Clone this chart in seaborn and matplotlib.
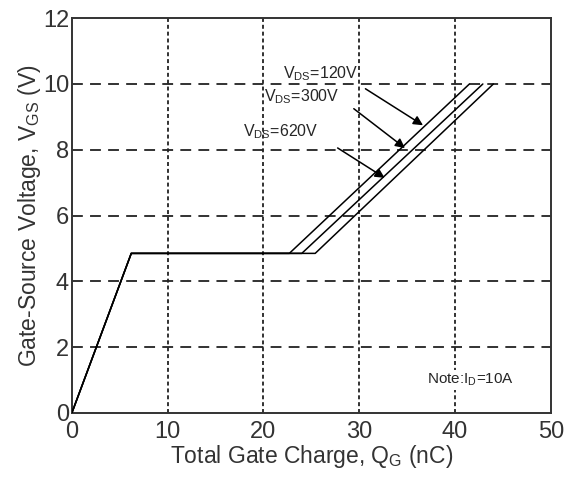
import pandas as pd
import seaborn as sns
import matplotlib
matplotlib.use('Agg')
import matplotlib.pyplot as plt

sns.set_style("white")
plt.rcParams['font.family'] = ['Liberation Sans', 'DejaVu Sans']

# gate charge curves, one per drain-source voltage
vds = ['120V', '300V', '620V']
qg_120 = [0, 6.2, 22.7, 41.5]
vgs_120 = [0, 4.85, 4.85, 10]
qg_300 = [0, 6.2, 24.0, 42.9]
vgs_300 = [0, 4.85, 4.85, 10]
qg_620 = [0, 6.2, 25.4, 44.0]
vgs_620 = [0, 4.85, 4.85, 10]

xticks = [0, 10, 20, 30, 40, 50]
yticks = [0, 2, 4, 6, 8, 10, 12]

frames = []
for name, q, v in zip(vds, (qg_120, qg_300, qg_620), (vgs_120, vgs_300, vgs_620)):
    frames.append(pd.DataFrame({'Qg': q, 'Vgs': v, 'VDS': name}))
data = pd.concat(frames)

fig = plt.figure(figsize=(5.75, 4.79), dpi=100)
ax = fig.add_axes([0.125, 0.138, 0.833, 0.824])

# grid
for y in yticks[1:-1]:
    ax.axhline(y, color='#222222', lw=1.3, ls=(0, (6, 4)), zorder=1)
for x in xticks[1:-1]:
    ax.axvline(x, color='#222222', lw=1.3, ls=(0, (2.2, 1.6)), zorder=1)

sns.lineplot(data=data, x='Qg', y='Vgs', hue='VDS', units='VDS', estimator=None,
             sort=False, palette=['black'] * 3, lw=1.1, legend=False, ax=ax, zorder=3)

ax.set_xlim(0, 50)
ax.set_ylim(0, 12)
ax.set_xticks(xticks)
ax.set_yticks(yticks)
ax.tick_params(length=0, labelsize=17, colors='#333333')
ax.tick_params(axis='x', pad=6)
ax.tick_params(axis='y', pad=2)
for s in ax.spines.values():
    s.set_color('#333333')
    s.set_linewidth(1.4)

ax.set_xlabel('Total Gate Charge, Q$_\\mathregular{G}$ (nC)', fontsize=16.5,
              labelpad=0, color='#333333')
ax.set_ylabel('Gate-Source Voltage, V$_\\mathregular{GS}$ (V)', fontsize=16.5,
              labelpad=0, color='#333333')

# annotations
arrow = dict(arrowstyle='-|>', color='black', lw=1.1, mutation_scale=14)
ax.annotate('', xy=(36.9, 8.7), xytext=(30.4, 9.9), arrowprops=arrow)
ax.annotate('', xy=(35.0, 8.0), xytext=(29.2, 9.3), arrowprops=arrow)
ax.annotate('', xy=(32.9, 7.1), xytext=(27.5, 8.1), arrowprops=arrow)
ax.text(22.0, 10.3, 'V$_\\mathregular{DS}$=120V', fontsize=11.5, va='center')
ax.text(20.1, 9.6, 'V$_\\mathregular{DS}$=300V', fontsize=11.5, va='center')
ax.text(17.9, 8.55, 'V$_\\mathregular{DS}$=620V', fontsize=11.5, va='center')
ax.text(41.6, 1.0, 'Note:I$_\\mathregular{D}$=10A', fontsize=11, ha='center', va='center',
        bbox=dict(facecolor='white', edgecolor='none', pad=1), zorder=4)

fig.savefig('out.png', dpi=100)
